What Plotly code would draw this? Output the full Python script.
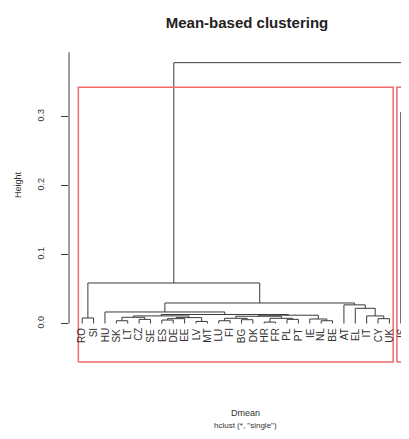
import plotly.graph_objects as go

# ---- data (leaf labels in dendrogram order, R-style merge matrix + heights) ----
labels = ["RO", "SI", "HU", "SK", "LT", "CZ", "SE", "ES", "DE", "EE",
          "LV", "MT", "LU", "FI", "BG", "DK", "HR", "FR", "PL", "PT",
          "IE", "NL", "BE", "AT", "EL", "IT", "CY", "UK", "IS", "NO"]

merge_left = [-1, -4, -6, 2, -8, 5, -11, 6, 4, -13, -15, 10, -17, -19, 13,
              12, -22, -21, 16, 9, -3, -27, -26, -25, -24, 21, 1, -29, 27]
merge_right = [-2, -5, -7, 3, -9, -10, -12, 7, 8, -14, -16, 11, -18, -20, 14,
               15, -23, 17, 18, 19, 20, -28, 22, 23, 24, 25, 26, -30, 28]
merge_height = [0.008, 0.004, 0.006, 0.009, 0.005, 0.007, 0.003, 0.0085, 0.011,
                0.004, 0.0055, 0.0075, 0.002, 0.006, 0.0075, 0.0105, 0.004,
                0.0065, 0.012, 0.013, 0.0167, 0.007, 0.011, 0.022, 0.027,
                0.0297, 0.0587, 0.3065, 0.378]

cluster_sizes = [28, 2]          # rect.hclust(k = 2) groups, in leaf order
y_ticks = [0.0, 0.1, 0.2, 0.3]
y_tick_text = ["0.0", "0.1", "0.2", "0.3"]

# ---- build dendrogram segments ----
centers, tops = [], []


def node_pos(ref):
    if ref < 0:
        return float(-ref), 0.0
    return centers[ref - 1], tops[ref - 1]


xs, ys = [], []
for a, b, h in zip(merge_left, merge_right, merge_height):
    xa, ya = node_pos(a)
    xb, yb = node_pos(b)
    xs += [xa, xa, xb, xb, None]
    ys += [ya, h, h, yb, None]
    centers.append((xa + xb) / 2)
    tops.append(h)

TEXT = "#333333"
FONT = "Liberation Sans, Arial"
fig = go.Figure()
fig.add_trace(go.Scatter(x=xs, y=ys, mode="lines",
                         line=dict(color="#3a3a3a", width=1),
                         hoverinfo="skip", showlegend=False))

# red boxes (rect.hclust style)
sorted_h = sorted(merge_height, reverse=True)
box_top = (sorted_h[0] + sorted_h[1]) / 2
box_bottom = -0.0558
start = 0
for n in cluster_sizes:
    x0 = start + 0.66
    x1 = start + n + 0.33
    fig.add_trace(go.Scatter(x=[x0, x1, x1, x0, x0],
                             y=[box_bottom, box_bottom, box_top, box_top, box_bottom],
                             mode="lines", line=dict(color="#f06a6a", width=1.5),
                             hoverinfo="skip", showlegend=False))
    start += n

# leaf labels
for i, lab in enumerate(labels):
    fig.add_annotation(x=i + 1, y=-0.004, xref="x", yref="y", text=lab,
                       textangle=-90, showarrow=False, xanchor="center",
                       yanchor="top", font=dict(size=10, color=TEXT, family=FONT))

# axis line (data-referenced vertical line at the left edge)
fig.add_shape(type="line", xref="paper", yref="y", x0=0, x1=0, y0=0, y1=0.393,
              line=dict(color="#3a3a3a", width=1))

# axis titles and subtitle
fig.add_annotation(text="Height", xref="paper", yref="paper", x=-0.15, y=0.561,
                   textangle=-90, showarrow=False, xanchor="center", yanchor="middle",
                   font=dict(size=9, color=TEXT, family=FONT))
fig.add_annotation(text="Dmean", xref="paper", yref="paper", x=0.518, y=-0.1536,
                   showarrow=False, xanchor="center", yanchor="middle",
                   font=dict(size=9, color=TEXT, family=FONT))
fig.add_annotation(text='hclust (*, "single")', xref="paper", yref="paper", x=0.518,
                   y=-0.194, showarrow=False, xanchor="center", yanchor="middle",
                   font=dict(size=8, color=TEXT, family=FONT))

fig.update_layout(
    width=401, height=431,
    margin=dict(l=61, r=0, t=37, b=75),
    paper_bgcolor="white", plot_bgcolor="white",
    title=dict(text="<b>Mean-based clustering</b>", xref="container", yref="container",
               x=0.596, y=0.965, xanchor="center", yanchor="middle",
               font=dict(size=15, color="#222222", family=FONT)),
    xaxis=dict(range=[-0.16, 29.72], showgrid=False, zeroline=False,
               showticklabels=False, ticks="", showline=False),
    yaxis=dict(range=[-0.0587, 0.4036], showgrid=False, zeroline=False,
               showline=False, tickmode="array", tickvals=y_ticks,
               ticktext=y_tick_text, ticks="outside", ticklen=7, tickwidth=1,
               tickcolor="#3a3a3a", tickangle=-90, ticklabelstandoff=13,
               tickfont=dict(size=9, color=TEXT, family=FONT)),
)

fig.write_html("out.html")
